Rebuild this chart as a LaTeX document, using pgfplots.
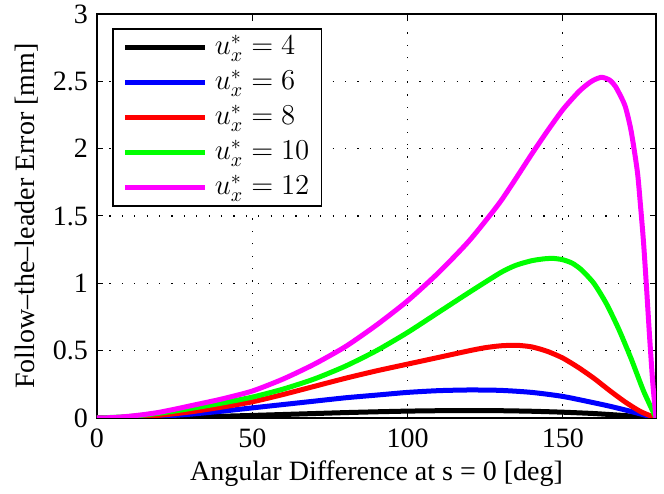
\documentclass[border=0pt]{standalone}
\usepackage{fontspec}
\setmainfont{Liberation Serif}
\usepackage{pgfplots}
\pgfplotsset{compat=1.18}
\definecolor{mymag}{rgb}{1,0,1}
\definecolor{mygreen}{rgb}{0,1,0}
\definecolor{myblue}{rgb}{0,0,1}
\definecolor{myred}{rgb}{1,0,0}
\begin{document}
\begin{tikzpicture}
\begin{axis}[
  name=ax,
  scale only axis,
  width=279.5pt, height=202pt,
  xmin=0, xmax=180, ymin=0, ymax=3,
  xtick={0,50,100,150},
  ytick={0,0.5,1,1.5,2,2.5,3},
  grid=major,
  major grid style={black, line width=0.6pt, dash pattern=on 0.6pt off 5.6pt},
  tick align=inside,
  tick style={black, line width=0.5pt},
  major tick length=3pt,
  axis line style={black, line width=0.8pt},
  /pgf/number format/assume math mode=true,
  tick label style={font=\fontsize{14}{16}\selectfont},
  xlabel={Angular Difference at s = 0 [deg]},
  ylabel={Follow--the--leader Error [mm]},
  every axis x label/.style={at={(axis description cs:0.5,0)}, yshift=-28pt, anchor=center, font=\fontsize{14}{16}\selectfont},
  every axis y label/.style={at={(axis description cs:0,0.5)}, xshift=-35pt, rotate=90, anchor=center, font=\fontsize{14}{16}\selectfont},
  xticklabel style={yshift=-2pt},
  yticklabel style={xshift=-1pt},
  legend style={at={(0.0268,0.9653)}, anchor=north west, draw=black, line width=0.8pt,
    font=\fontsize{14.6}{17}\selectfont, legend cell align=left, row sep=0pt,
    inner xsep=5pt, inner ysep=0.5pt,
    /tikz/every odd column/.append style={column sep=2.5pt},
    nodes={inner sep=1pt, text height=11.5pt, text depth=4pt}},
  legend image code/.code={\draw[#1, line width=2.5pt] (0pt,0pt) -- (40pt,0pt);},
  every axis plot/.append style={line width=2.5pt, line join=round, smooth, tension=0.4},
]
\addplot[black] coordinates {
(0,0) (10,0.001) (20,0.004) (30,0.008) (40,0.013) (50,0.019) (60,0.026) (70,0.033)
(80,0.040) (90,0.046) (100,0.051) (110,0.054) (120,0.055) (130,0.054) (140,0.050)
(150,0.043) (160,0.033) (170,0.018) (175,0.009) (180,0)};
\addlegendentry{$u_x^* = 4$}
\addplot[myblue] coordinates {
(0,0) (10,0.003) (20,0.012) (30,0.028) (40,0.05) (50,0.075) (60,0.10) (70,0.125)
(80,0.15) (90,0.17) (100,0.19) (110,0.203) (120,0.208) (130,0.205) (140,0.19)
(150,0.16) (160,0.113) (165,0.088) (170,0.06) (175,0.03) (180,0)};
\addlegendentry{$u_x^* = 6$}
\addplot[myred] coordinates {
(0,0) (10,0.005) (20,0.02) (30,0.045) (40,0.08) (50,0.12) (60,0.175) (70,0.235)
(80,0.295) (90,0.35) (100,0.40) (110,0.45) (120,0.50) (125,0.522) (130,0.536) (135,0.54)
(140,0.528) (145,0.495) (150,0.445) (155,0.375) (160,0.295) (165,0.205) (170,0.12) (175,0.048) (180,0)};
\addlegendentry{$u_x^* = 8$}
\addplot[mygreen] coordinates {
(0,0) (10,0.01) (20,0.035) (30,0.07) (40,0.11) (50,0.155) (60,0.215) (70,0.29)
(80,0.385) (90,0.50) (100,0.635) (110,0.785) (120,0.935) (130,1.08) (135,1.135) (140,1.168)
(144,1.182) (147,1.185) (150,1.175) (153,1.15) (156,1.10) (160,1.00) (164,0.85)
(168,0.66) (172,0.44) (176,0.20) (180,0)};
\addlegendentry{$u_x^* = 10$}
\addplot[mymag] coordinates {
(0,0) (5,0.003) (10,0.012) (15,0.025) (20,0.042) (25,0.065) (30,0.09) (40,0.14)
(50,0.20) (60,0.29) (70,0.40) (80,0.53) (90,0.69) (100,0.87) (110,1.08) (120,1.32)
(130,1.61) (140,1.96) (145,2.13) (150,2.29) (155,2.42) (158,2.48) (160,2.51) (162.5,2.53)
(165,2.51) (167,2.46) (170,2.32) (172,2.13) (174,1.83) (175,1.58) (176,1.30)
(177,0.95) (178,0.58) (179,0.25) (180,0)};
\addlegendentry{$u_x^* = 12$}
\end{axis}
\pgfresetboundingbox
\path (ax.south west) ++(-48.5pt,-38pt) coordinate (bl);
\path (ax.north east) ++(4pt,7pt) coordinate (tr);
\path (bl) rectangle (tr);
\end{tikzpicture}
\end{document}
